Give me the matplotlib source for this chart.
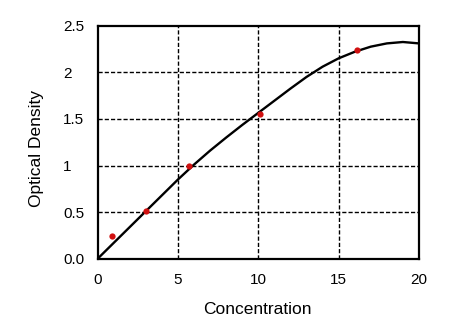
import matplotlib
matplotlib.use('Agg')
import matplotlib.pyplot as plt

plt.rcParams['font.family'] = ['Liberation Sans', 'DejaVu Sans']

# measured standards
conc = [0.92, 3.03, 5.67, 10.12, 16.14]
od = [0.245, 0.51, 0.99, 1.55, 2.24]

# fitted curve
curve_x = [0, 1, 2, 3, 4, 5, 6, 7, 8, 9, 10, 11, 12, 13, 14, 15, 16, 17, 18, 19, 20]
curve_y = [0, 0.17, 0.34, 0.51, 0.68, 0.85, 1.01, 1.16, 1.30, 1.435, 1.565, 1.695,
           1.825, 1.95, 2.06, 2.15, 2.22, 2.275, 2.31, 2.325, 2.31]

x_ticks = [0, 5, 10, 15, 20]
y_ticks = [0, 0.5, 1, 1.5, 2, 2.5]
y_tick_labels = ['0.0', '0.5', '1', '1.5', '2', '2.5']

fig = plt.figure(figsize=(4.65, 3.24), dpi=100)
ax = fig.add_axes([0.210, 0.2015, 0.691, 0.7192])

ax.plot(curve_x, curve_y, color='black', lw=1.7, zorder=3)
ax.plot(conc, od, 'o', color='#d01010', ms=4.5, mec='none', zorder=4)

ax.set_xlim(0, 20)
ax.set_ylim(0, 2.5)
ax.set_xticks(x_ticks)
ax.set_yticks(y_ticks)
ax.set_yticklabels(y_tick_labels)

for v in x_ticks[1:-1]:
    ax.axvline(v, color='black', lw=1, ls=(0, (3, 1.5)), zorder=1)
for v in y_ticks[1:-1]:
    ax.axhline(v, color='black', lw=1, ls=(0, (3, 1.5)), zorder=1)

for s in ax.spines.values():
    s.set_linewidth(1.6)

ax.tick_params(axis='x', length=0, pad=10, labelsize=11)
ax.tick_params(axis='y', length=0, pad=25, labelsize=11)
for lab in ax.get_yticklabels():
    lab.set_ha('left')

ax.set_xlabel('Concentration', fontsize=12.5)
ax.set_ylabel('Optical Density', fontsize=12.5)
ax.xaxis.set_label_coords(0.496, -0.216)
ax.yaxis.set_label_coords(-0.189, 0.475)
ax.xaxis.label.set_va('center')
ax.yaxis.label.set_va('center')

fig.savefig('out.png', dpi=100)
